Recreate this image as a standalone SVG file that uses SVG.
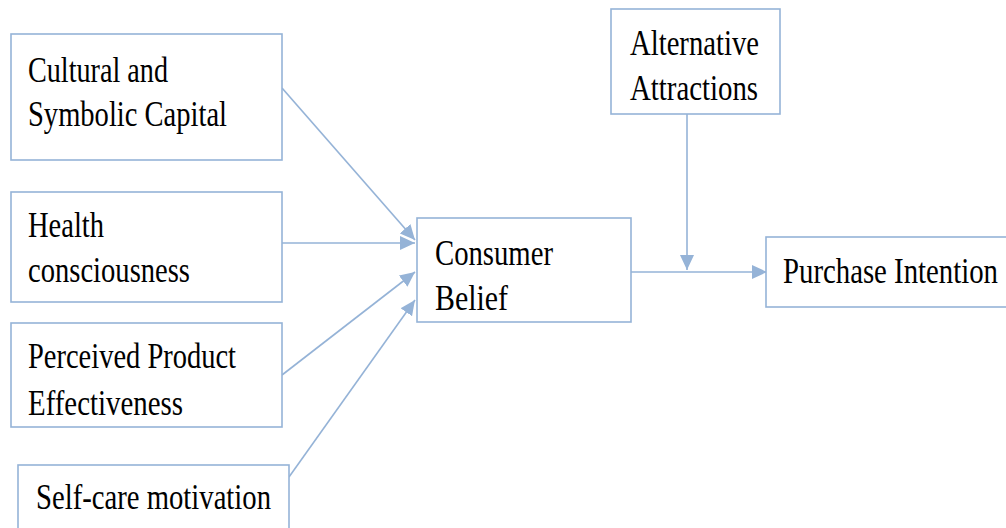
<svg xmlns="http://www.w3.org/2000/svg" width="1006" height="528" viewBox="0 0 1006 528">
<style>
.box{fill:#fff;stroke:#95b3d7;stroke-width:1.6}
.edge{fill:none;stroke:#95b3d7;stroke-width:1.6}
.t{font-family:"Liberation Serif","Times New Roman",serif;font-size:35px;fill:#000}
</style>
<defs>
<marker id="ah" markerUnits="userSpaceOnUse" markerWidth="16" markerHeight="14" refX="15" refY="7" orient="auto">
<path d="M0,0 L15,7 L0,14 z" fill="#95b3d7"/>
</marker>
</defs>
<rect width="1006" height="528" fill="#fff"/>
<g id="connectors">
<line class="edge" x1="282" y1="88" x2="415" y2="240" marker-end="url(#ah)"/>
<line class="edge" x1="282" y1="243" x2="415" y2="243" marker-end="url(#ah)"/>
<line class="edge" x1="282" y1="375" x2="415" y2="272" marker-end="url(#ah)"/>
<line class="edge" x1="289" y1="477" x2="415" y2="300" marker-end="url(#ah)"/>
<line class="edge" x1="631" y1="272" x2="767" y2="272" marker-end="url(#ah)"/>
<line class="edge" x1="687" y1="114" x2="687" y2="270" marker-end="url(#ah)"/>
</g>
<g id="cultural">
<rect class="box" x="11" y="34" width="271" height="126"/>
<text class="t" x="28" y="82" textLength="140" lengthAdjust="spacingAndGlyphs">Cultural and</text>
<text class="t" x="28" y="126" textLength="199" lengthAdjust="spacingAndGlyphs">Symbolic Capital</text>
</g>
<g id="health">
<rect class="box" x="11" y="192" width="271" height="110"/>
<text class="t" x="28" y="237" textLength="76" lengthAdjust="spacingAndGlyphs">Health</text>
<text class="t" x="28" y="282" textLength="162" lengthAdjust="spacingAndGlyphs">consciousness</text>
</g>
<g id="perceived">
<rect class="box" x="11" y="323" width="271" height="104"/>
<text class="t" x="28" y="368" textLength="208" lengthAdjust="spacingAndGlyphs">Perceived Product</text>
<text class="t" x="28" y="415" textLength="155" lengthAdjust="spacingAndGlyphs">Effectiveness</text>
</g>
<g id="selfcare">
<rect class="box" x="18" y="465" width="271" height="80"/>
<text class="t" x="36" y="509" textLength="235" lengthAdjust="spacingAndGlyphs">Self-care motivation</text>
</g>
<g id="consumer">
<rect class="box" x="417" y="218" width="214" height="104"/>
<text class="t" x="435" y="265" textLength="118" lengthAdjust="spacingAndGlyphs">Consumer</text>
<text class="t" x="435" y="310" textLength="73" lengthAdjust="spacingAndGlyphs">Belief</text>
</g>
<g id="alternative">
<rect class="box" x="611" y="9" width="169" height="105"/>
<text class="t" x="630" y="55" textLength="129" lengthAdjust="spacingAndGlyphs">Alternative</text>
<text class="t" x="630" y="100" textLength="128" lengthAdjust="spacingAndGlyphs">Attractions</text>
</g>
<g id="purchase">
<rect class="box" x="766" y="237" width="250" height="70"/>
<text class="t" x="783" y="283" textLength="215" lengthAdjust="spacingAndGlyphs">Purchase Intention</text>
</g>
</svg>
